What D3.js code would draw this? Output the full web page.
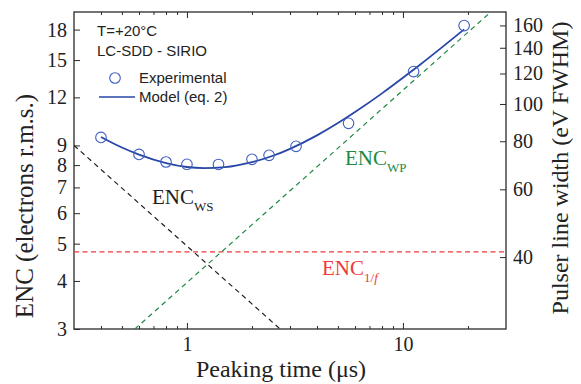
<!DOCTYPE html>
<html>
<head>
<meta charset="utf-8">
<script src="https://cdn.jsdelivr.net/npm/d3@7"></script>
<style>
  html, body { margin: 0; padding: 0; background: #fff; }
  svg { display: block; }
  .serif { font-family: "Liberation Serif", "Times New Roman", serif; }
  .sans { font-family: "Liberation Sans", Arial, sans-serif; }
</style>
</head>
<body>
<svg id="chart" width="581" height="384"></svg>
<script>
// ---------------- data ----------------
const peakingTime = [0.4, 0.6, 0.8, 1.0, 1.4, 2.0, 2.4, 3.2, 5.6, 11.2, 19.2];
const encExperimental = [9.44, 8.53, 8.15, 8.04, 8.03, 8.28, 8.48, 8.95, 10.27, 14.0, 18.44];

const modelTime = [0.4, 0.5, 0.6, 0.8, 1.0, 1.2, 1.5, 2.0, 2.5, 3.0, 4.0, 5.0, 6.0, 8.0, 10, 12, 15, 19.2];
const modelEnc  = [9.47, 8.89, 8.52, 8.10, 7.91, 7.86, 7.90, 8.14, 8.46, 8.82, 9.56, 10.29, 10.99, 12.29, 13.49, 14.59, 16.11, 18.03];

const wsTime = [0.3, 2.7];
const wsEnc  = [9.0, 3.0];
const wpTime = [0.574, 25.5];
const wpEnc  = [3.0, 20.0];
const flickerTime = [0.3, 30];
const flickerEnc  = [4.76, 4.76];

const xMajorTicks = [1, 10];
const xMinorTicks = [0.4, 0.5, 0.6, 0.7, 0.8, 0.9, 2, 3, 4, 5, 6, 7, 8, 9, 20];
const yLeftTicks = [3, 4, 5, 6, 7, 8, 9, 12, 15, 18];
const yRightTicks = [40, 60, 80, 100, 120, 140, 160];
const encToFwhm = 8.67; // eV FWHM per electron r.m.s.

// ---------------- layout ----------------
const svg = d3.select("#chart");
const L = 74, R = 506, T = 12, B = 329;

const x = d3.scaleLog().domain([0.3, 30]).range([L, R]);
const y = d3.scaleLog().domain([3, 20]).range([B, T]);
const y2 = d3.scaleLog().domain([3 * encToFwhm, 20 * encToFwhm]).range([B, T]);

const axisColor = "#2a2a2a";
const fmt = d3.format("d");

// bottom axis
const gB = svg.append("g").attr("transform", `translate(0,${B})`);
gB.call(d3.axisBottom(x).tickValues(xMajorTicks).tickSize(-6).tickPadding(8).tickFormat(fmt));
const gBm = svg.append("g").attr("transform", `translate(0,${B})`);
gBm.call(d3.axisBottom(x).tickValues(xMinorTicks).tickSize(-3).tickFormat(""));
// top axis (mirror)
const gT = svg.append("g").attr("transform", `translate(0,${T})`);
gT.call(d3.axisTop(x).tickValues(xMajorTicks).tickSize(-6).tickFormat(""));
const gTm = svg.append("g").attr("transform", `translate(0,${T})`);
gTm.call(d3.axisTop(x).tickValues(xMinorTicks).tickSize(-3).tickFormat(""));
// left axis
const gL = svg.append("g").attr("transform", `translate(${L},0)`);
gL.call(d3.axisLeft(y).tickValues(yLeftTicks).tickSize(-6).tickPadding(7).tickFormat(fmt));
// right axis
const gR = svg.append("g").attr("transform", `translate(${R},0)`);
gR.call(d3.axisRight(y2).tickValues(yRightTicks).tickSize(-6).tickPadding(7).tickFormat(fmt));

svg.selectAll(".domain").remove();
svg.selectAll(".tick line").attr("stroke", axisColor).attr("stroke-width", 1);
svg.selectAll(".tick text")
  .attr("class", "serif")
  .attr("font-size", 20)
  .attr("fill", "#222");

// frame
svg.append("rect")
  .attr("x", L).attr("y", T).attr("width", R - L).attr("height", B - T)
  .attr("fill", "none").attr("stroke", axisColor).attr("stroke-width", 1.3);

// clip
svg.append("clipPath").attr("id", "plotclip")
  .append("rect").attr("x", L).attr("y", T).attr("width", R - L).attr("height", B - T);
const plot = svg.append("g").attr("clip-path", "url(#plotclip)");

const line = d3.line().x(d => x(d[0])).y(d => y(d[1]));

function dashed(ts, vs, color, dash) {
  plot.append("path")
    .attr("d", line(d3.zip(ts, vs)))
    .attr("fill", "none")
    .attr("stroke", color)
    .attr("stroke-width", 1.2)
    .attr("stroke-dasharray", dash);
}
dashed(flickerTime, flickerEnc, "#f03a3a", "5,3.5");
dashed(wsTime, wsEnc, "#1e1e1e", "5,4");
dashed(wpTime, wpEnc, "#1d8a45", "5,4");

// model curve
plot.append("path")
  .attr("d", d3.line().x(d => x(d[0])).y(d => y(d[1])).curve(d3.curveMonotoneX)(d3.zip(modelTime, modelEnc)))
  .attr("fill", "none")
  .attr("stroke", "#2846a6")
  .attr("stroke-width", 1.8);

// experimental points
plot.selectAll("circle.exp")
  .data(d3.zip(peakingTime, encExperimental))
  .join("circle")
  .attr("class", "exp")
  .attr("cx", d => x(d[0])).attr("cy", d => y(d[1]))
  .attr("r", 5.3)
  .attr("fill", "none")
  .attr("stroke", "#3d5dbf")
  .attr("stroke-width", 1.1);

// component labels
function encLabel(px, py, sub, color, italicF) {
  const t = svg.append("text").attr("class", "serif")
    .attr("x", px).attr("y", py).attr("fill", color).attr("font-size", 21);
  t.append("tspan").text("ENC");
  if (italicF) {
    t.append("tspan").attr("dy", 7).attr("font-size", 13).text("1/");
    t.append("tspan").attr("font-size", 13).attr("font-style", "italic").text("f");
  } else {
    t.append("tspan").attr("dy", 7).attr("font-size", 13).text(sub);
  }
}
encLabel(152, 204, "WS", "#1e1e1e", false);
encLabel(345, 165, "WP", "#1d8a45", false);
encLabel(322, 275, "", "#f03a3a", true);

// legend / annotations
const ann = svg.append("g").attr("class", "sans").attr("font-size", 15).attr("fill", "#222");
ann.append("text").attr("x", 97).attr("y", 36).text("T=+20°C");
ann.append("text").attr("x", 97).attr("y", 56).text("LC-SDD - SIRIO");
svg.append("circle").attr("cx", 115).attr("cy", 78).attr("r", 5.3)
  .attr("fill", "none").attr("stroke", "#3d5dbf").attr("stroke-width", 1.1);
ann.append("text").attr("x", 139).attr("y", 83).text("Experimental");
svg.append("line").attr("x1", 99).attr("x2", 135).attr("y1", 97).attr("y2", 97)
  .attr("stroke", "#2846a6").attr("stroke-width", 1.5);
ann.append("text").attr("x", 139).attr("y", 102).text("Model (eq. 2)");

// axis titles
svg.append("text").attr("class", "serif").attr("font-size", 24).attr("fill", "#222")
  .attr("text-anchor", "middle").attr("x", 281).attr("y", 377)
  .text("Peaking time (μs)");
svg.append("text").attr("class", "serif").attr("font-size", 25).attr("fill", "#222")
  .attr("text-anchor", "middle")
  .attr("transform", "translate(33,206) rotate(-90)")
  .text("ENC (electrons r.m.s.)");
svg.append("text").attr("class", "serif").attr("font-size", 24).attr("fill", "#222")
  .attr("text-anchor", "middle")
  .attr("transform", "translate(568,168) rotate(-90)")
  .text("Pulser line width (eV FWHM)");
</script>
</body>
</html>
